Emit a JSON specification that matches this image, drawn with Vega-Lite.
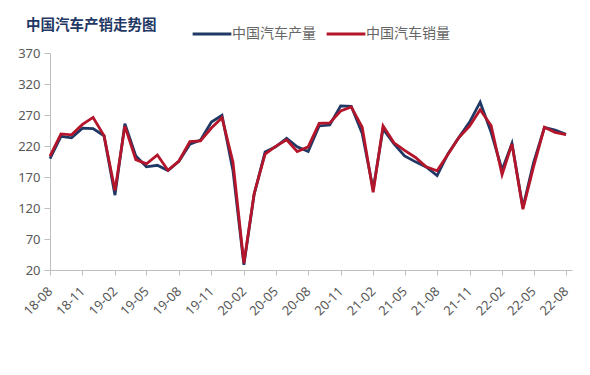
{
  "$schema": "https://vega.github.io/schema/vega-lite/v6.json",
  "width": 522,
  "height": 217,
  "autosize": {"type": "none"},
  "padding": {"left": 50, "top": 53, "right": 18, "bottom": 105},
  "background": "white",
  "title": {
    "text": "中国汽车产销走势图",
    "anchor": "start",
    "frame": "group",
    "dx": -24,
    "dy": 20,
    "offset": 0,
    "font": "Noto Sans CJK SC",
    "fontSize": 14.5,
    "fontWeight": "bold",
    "color": "#1f3864"
  },
  "data": {
    "values": [
      {"d": "2018-08-01", "中国汽车产量": 199.5, "中国汽车销量": 203.5},
      {"d": "2018-09-01", "中国汽车产量": 235.6, "中国汽车销量": 239.4},
      {"d": "2018-10-01", "中国汽车产量": 233.1, "中国汽车销量": 238.0},
      {"d": "2018-11-01", "中国汽车产量": 248.9, "中国汽车销量": 254.8},
      {"d": "2018-12-01", "中国汽车产量": 248.1, "中国汽车销量": 266.1},
      {"d": "2019-01-01", "中国汽车产量": 236.6, "中国汽车销量": 236.7},
      {"d": "2019-02-01", "中国汽车产量": 140.7, "中国汽车销量": 148.2},
      {"d": "2019-03-01", "中国汽车产量": 255.8, "中国汽车销量": 252.0},
      {"d": "2019-04-01", "中国汽车产量": 204.0, "中国汽车销量": 198.0},
      {"d": "2019-05-01", "中国汽车产量": 186.4, "中国汽车销量": 191.3},
      {"d": "2019-06-01", "中国汽车产量": 188.9, "中国汽车销量": 205.6},
      {"d": "2019-07-01", "中国汽车产量": 180.3, "中国汽车销量": 180.9},
      {"d": "2019-08-01", "中国汽车产量": 195.2, "中国汽车销量": 195.8},
      {"d": "2019-09-01", "中国汽车产量": 222.8, "中国汽车销量": 227.1},
      {"d": "2019-10-01", "中国汽车产量": 229.4, "中国汽车销量": 228.4},
      {"d": "2019-11-01", "中国汽车产量": 258.5, "中国汽车销量": 249.0},
      {"d": "2019-12-01", "中国汽车产量": 269.4, "中国汽车销量": 265.7},
      {"d": "2020-01-01", "中国汽车产量": 180.6, "中国汽车销量": 194.1},
      {"d": "2020-02-01", "中国汽车产量": 28.5, "中国汽车销量": 31.0},
      {"d": "2020-03-01", "中国汽车产量": 142.1, "中国汽车销量": 143.0},
      {"d": "2020-04-01", "中国汽车产量": 210.2, "中国汽车销量": 207.0},
      {"d": "2020-05-01", "中国汽车产量": 218.7, "中国汽车销量": 219.4},
      {"d": "2020-06-01", "中国汽车产量": 232.5, "中国汽车销量": 230.0},
      {"d": "2020-07-01", "中国汽车产量": 218.8, "中国汽车销量": 211.2},
      {"d": "2020-08-01", "中国汽车产量": 211.2, "中国汽车销量": 218.6},
      {"d": "2020-09-01", "中国汽车产量": 252.3, "中国汽车销量": 256.5},
      {"d": "2020-10-01", "中国汽车产量": 253.8, "中国汽车销量": 257.3},
      {"d": "2020-11-01", "中国汽车产量": 284.7, "中国汽车销量": 276.5},
      {"d": "2020-12-01", "中国汽车产量": 284.0, "中国汽车销量": 283.1},
      {"d": "2021-01-01", "中国汽车产量": 240.0, "中国汽车销量": 250.3},
      {"d": "2021-02-01", "中国汽车产量": 150.3, "中国汽车销量": 145.5},
      {"d": "2021-03-01", "中国汽车产量": 247.6, "中国汽车销量": 252.6},
      {"d": "2021-04-01", "中国汽车产量": 223.4, "中国汽车销量": 225.2},
      {"d": "2021-05-01", "中国汽车产量": 204.1, "中国汽车销量": 212.8},
      {"d": "2021-06-01", "中国汽车产量": 194.4, "中国汽车销量": 201.5},
      {"d": "2021-07-01", "中国汽车产量": 186.3, "中国汽车销量": 186.4},
      {"d": "2021-08-01", "中国汽车产量": 172.4, "中国汽车销量": 179.9},
      {"d": "2021-09-01", "中国汽车产量": 207.7, "中国汽车销量": 206.7},
      {"d": "2021-10-01", "中国汽车产量": 233.1, "中国汽车销量": 233.2},
      {"d": "2021-11-01", "中国汽车产量": 258.5, "中国汽车销量": 252.2},
      {"d": "2021-12-01", "中国汽车产量": 290.7, "中国汽车销量": 278.6},
      {"d": "2022-01-01", "中国汽车产量": 242.1, "中国汽车销量": 253.1},
      {"d": "2022-02-01", "中国汽车产量": 181.4, "中国汽车销量": 173.7},
      {"d": "2022-03-01", "中国汽车产量": 224.1, "中国汽车销量": 223.4},
      {"d": "2022-04-01", "中国汽车产量": 120.5, "中国汽车销量": 118.1},
      {"d": "2022-05-01", "中国汽车产量": 192.6, "中国汽车销量": 186.2},
      {"d": "2022-06-01", "中国汽车产量": 249.9, "中国汽车销量": 250.2},
      {"d": "2022-07-01", "中国汽车产量": 245.5, "中国汽车销量": 242.0},
      {"d": "2022-08-01", "中国汽车产量": 238.7, "中国汽车销量": 238.3}
    ]
  },
  "transform": [{"fold": ["中国汽车产量", "中国汽车销量"], "as": ["series", "value"]}],
  "mark": {"type": "line", "strokeWidth": 2.8},
  "encoding": {
    "x": {
      "field": "d",
      "type": "temporal",
      "scale": {
        "type": "utc",
        "domain": [
          {"year": 2018, "month": 8, "date": 1, "utc": true},
          {"year": 2022, "month": 8, "date": 18, "utc": true}
        ]
      },
      "axis": {
        "title": null,
        "grid": false,
        "values": [
          {"year": 2018, "month": 8, "date": 1, "utc": true},
          {"year": 2018, "month": 11, "date": 1, "utc": true},
          {"year": 2019, "month": 2, "date": 1, "utc": true},
          {"year": 2019, "month": 5, "date": 1, "utc": true},
          {"year": 2019, "month": 8, "date": 1, "utc": true},
          {"year": 2019, "month": 11, "date": 1, "utc": true},
          {"year": 2020, "month": 2, "date": 1, "utc": true},
          {"year": 2020, "month": 5, "date": 1, "utc": true},
          {"year": 2020, "month": 8, "date": 1, "utc": true},
          {"year": 2020, "month": 11, "date": 1, "utc": true},
          {"year": 2021, "month": 2, "date": 1, "utc": true},
          {"year": 2021, "month": 5, "date": 1, "utc": true},
          {"year": 2021, "month": 8, "date": 1, "utc": true},
          {"year": 2021, "month": 11, "date": 1, "utc": true},
          {"year": 2022, "month": 2, "date": 1, "utc": true},
          {"year": 2022, "month": 5, "date": 1, "utc": true},
          {"year": 2022, "month": 8, "date": 1, "utc": true}
        ],
        "format": "%y-%m",
        "labelAngle": -45,
        "labelAlign": "right",
        "labelBaseline": "middle",
        "labelPadding": 14,
        "labelFont": "Noto Sans",
        "labelFontSize": 13,
        "labelColor": "#595959",
        "labelOverlap": false,
        "labelFlush": false,
        "tickSize": 5,
        "tickColor": "#bfbfbf",
        "domainColor": "#bfbfbf"
      }
    },
    "y": {
      "field": "value",
      "type": "quantitative",
      "scale": {"domain": [20, 370], "nice": false, "zero": false},
      "axis": {
        "title": null,
        "grid": false,
        "values": [20, 70, 120, 170, 220, 270, 320, 370],
        "labelFont": "Noto Sans",
        "labelFontSize": 13,
        "labelColor": "#595959",
        "labelPadding": 4,
        "tickSize": 6,
        "tickColor": "#bfbfbf",
        "domainColor": "#bfbfbf"
      }
    },
    "color": {
      "field": "series",
      "type": "nominal",
      "scale": {"domain": ["中国汽车产量", "中国汽车销量"], "range": ["#203864", "#b4152b"]},
      "legend": {
        "title": null,
        "orient": "none",
        "legendX": 141,
        "legendY": -40,
        "padding": 0,
        "direction": "horizontal",
        "symbolType": "stroke",
        "symbolSize": 1500,
        "symbolStrokeWidth": 3,
        "labelFont": "Noto Sans CJK SC",
        "labelFontSize": 14,
        "labelColor": "#666666",
        "labelOffset": -1,
        "columnPadding": 4,
        "labelLimit": 0
      }
    }
  },
  "config": {"view": {"stroke": null}}
}
